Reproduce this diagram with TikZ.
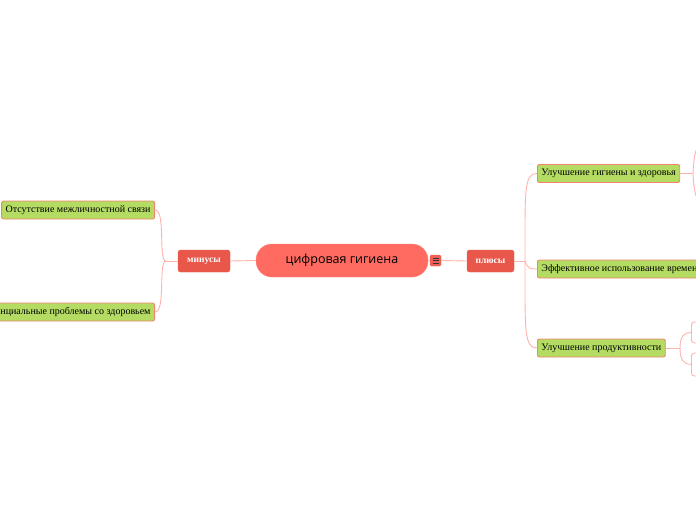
\documentclass[tikz,border=0pt]{standalone}
\usepackage{fontspec}
\setmainfont{Liberation Serif}
\newfontfamily\opensans{Open Sans}
\definecolor{centerfill}{HTML}{FF6B61}
\definecolor{branchfill}{HTML}{E9574B}
\definecolor{leaffill}{HTML}{B4DC63}
\definecolor{leafborder}{HTML}{F0846F}
\definecolor{linkcol}{HTML}{FFB3AC}
\definecolor{markfill}{HTML}{F06058}
\tikzset{
  centernode/.style={rounded corners=16pt, fill=centerfill, draw=centerfill!85!white, minimum width=172pt, minimum height=33pt, inner sep=0pt, font=\opensans\fontsize{12.5}{14}\selectfont, text=black},
  branchnode/.style={rounded corners=2.5pt, fill=branchfill, draw=branchfill, minimum height=22pt, inner sep=0pt, text=white, font=\fontsize{9.5}{11}\selectfont\bfseries},
  leafnode/.style={rounded corners=2pt, fill=leaffill, draw=leafborder, line width=0.9pt, minimum height=18pt, inner xsep=4pt, inner ysep=0pt, text=black, font=\fontsize{10}{11}\selectfont},
  subnode/.style={rounded corners=3pt, fill=white, draw=linkcol, line width=0.9pt, minimum width=40pt, inner sep=0pt},
  link/.style={draw=linkcol, line width=0.9pt},
}
\begin{document}
\begin{tikzpicture}[x=1pt,y=-1pt]
\useasboundingbox (0,0) rectangle (696,520);
\clip (0,0) rectangle (696,520);
\fill[white] (0,0) rectangle (696,520);
% free ends and split points
\coordinate (lsplit) at (166,261);
\coordinate (rsplit) at (525,261);
\coordinate (hsplit) at (693,173.5);
\coordinate (psplit) at (680,348);
\coordinate (hup) at (706,140);
\coordinate (hdown) at (706,206);
% nodes
\node[centernode] (c) at (342,260.5) {цифровая гигиена};
\node[rounded corners=1.5pt, fill=markfill, draw=branchfill, minimum width=11pt, minimum height=11pt, inner sep=0pt] (mark) at (435.5,260.5) {};
\foreach \yy in {-2.5,0,2.5} \draw[black!80, line width=0.8pt] ([xshift=-3pt,yshift=\yy pt]mark.center) -- ([xshift=3pt,yshift=\yy pt]mark.center);
\node[branchnode, minimum width=52pt] (minus) at (204,261) {минусы};
\node[branchnode, minimum width=47pt] (plus) at (490.5,261) {плюсы};
\node[leafnode, anchor=east] (l1) at (155,210) {Отсутствие межличностной связи};
\node[leafnode, anchor=east] (l2) at (155,312) {Потенциальные проблемы со здоровьем};
\node[leafnode, anchor=west] (r1) at (537,173.5) {Улучшение гигиены и здоровья};
\node[leafnode, anchor=west] (r2) at (537,269) {Эффективное использование времени};
\node[leafnode, anchor=west] (r3) at (537,348) {Улучшение продуктивности};
\node[subnode, anchor=west, minimum height=21pt] (p1) at (691,332.5) {};
\node[subnode, anchor=west, minimum height=23pt] (p2) at (691,364.5) {};
% links
\path[link] (c.west) -- (minus.east);
\path[link] (mark.east) -- (plus.west);
\path[link] (c.east) -- (mark.west);
\path[link] (minus.west) -- (lsplit);
\path[link] (lsplit) .. controls (158,261) and (166,210) .. (l1.east);
\path[link] (lsplit) .. controls (158,261) and (166,312) .. (l2.east);
\path[link] (plus.east) -- (rsplit);
\path[link] (rsplit) .. controls (525,190) and (524,173.5) .. (r1.west);
\path[link] (rsplit) .. controls (528,269) and (530,269) .. (r2.west);
\path[link] (rsplit) .. controls (525,330) and (524,348) .. (r3.west);
\path[link] (r1.east) -- (hsplit);
\path[link] (hsplit) .. controls (694,150) and (698,140) .. (hup);
\path[link] (hsplit) .. controls (694,196) and (698,206) .. (hdown);
\path[link] (r3.east) -- (psplit);
\path[link] (psplit) .. controls (680,336) and (684,332.5) .. (p1.west);
\path[link] (psplit) .. controls (680,360) and (684,364.5) .. (p2.west);
\end{tikzpicture}
\end{document}
